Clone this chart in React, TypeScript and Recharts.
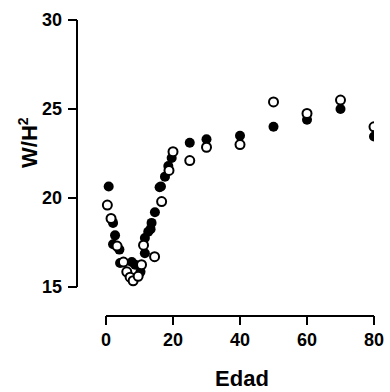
import { ScatterChart, Scatter, XAxis, YAxis, ReferenceLine } from 'recharts';

// filled circles
const edadA = [0.8, 1.6, 2.1, 2.7, 2.1, 4.0, 4.2, 7.7, 8.7, 10.3, 11.6, 11.6, 12.6, 13.3, 13.6, 14.6, 16.0, 16.4, 17.6, 18.6, 19.6, 25, 30, 40, 50, 60, 70, 80];
const imcA = [20.65, 18.8, 18.6, 17.9, 17.4, 17.1, 16.35, 16.4, 16.25, 15.85, 16.9, 17.75, 18.1, 18.25, 18.6, 19.2, 20.6, 20.65, 21.2, 21.8, 22.25, 23.1, 23.3, 23.5, 24.0, 24.4, 25.0, 23.45];

// open circles
const edadB = [0.4, 1.5, 3.3, 5.2, 6.2, 7.2, 8.1, 9.6, 10.6, 11.2, 14.5, 16.6, 18.8, 20, 25, 30, 40, 50, 60, 70, 80];
const imcB = [19.6, 18.85, 17.3, 16.4, 15.85, 15.55, 15.35, 15.6, 16.25, 17.35, 16.7, 19.8, 21.55, 22.6, 22.1, 22.85, 23.0, 25.4, 24.75, 25.5, 24.0];

const xTicks = [0, 20, 40, 60, 80];
const yTicks = [15, 20, 25, 30];

const xMin = -8.66;
const yMin = 13.37;

const font = '"Liberation Sans", Arial, sans-serif';

const serieA = edadA.map((x, i) => ({ x, y: imcA[i] }));
const serieB = edadB.map((x, i) => ({ x, y: imcB[i] }));

const tickStyle = { fill: '#000', fontSize: 18, fontWeight: 'bold', fontFamily: font };

export default function App() {
  return (
    <div style={{ position: 'absolute', left: 0, top: 0, background: '#fff' }}>
      <ScatterChart width={390} height={392} margin={{ top: 20, right: 16, left: 0, bottom: 0 }}>
        <XAxis
          type="number"
          dataKey="x"
          domain={[xMin, 80]}
          ticks={xTicks}
          axisLine={false}
          tickLine={{ stroke: '#000', strokeWidth: 2 }}
          tickSize={9}
          tickMargin={8}
          tick={tickStyle}
          height={76}
          allowDataOverflow
          label={{
            content: () => (
              <text x={242} y={386} textAnchor="middle" fill="#000" fontSize={22} fontWeight="bold" fontFamily={font}>
                Edad
              </text>
            ),
          }}
        />
        <YAxis
          type="number"
          dataKey="y"
          domain={[yMin, 30]}
          ticks={yTicks}
          axisLine={false}
          tickLine={{ stroke: '#000', strokeWidth: 2 }}
          tickSize={9}
          tickMargin={6}
          tick={tickStyle}
          width={77}
          allowDataOverflow
          label={{
            content: () => (
              <text transform="translate(37,168) rotate(-90)" fill="#000" fontSize={22} fontWeight="bold" fontFamily={font}>
                W/H
                <tspan dy={-9} fontSize={14}>2</tspan>
              </text>
            ),
          }}
        />
        <ReferenceLine segment={[{ x: 0, y: yMin }, { x: 80, y: yMin }]} stroke="#000" strokeWidth={2} ifOverflow="visible" />
        <ReferenceLine segment={[{ x: xMin, y: 15 }, { x: xMin, y: 30 }]} stroke="#000" strokeWidth={2} ifOverflow="visible" />
        <Scatter
          data={serieA}
          isAnimationActive={false}
          shape={(p: any) => <circle cx={p.cx} cy={p.cy} r={5} fill="#000" />}
        />
        <Scatter
          data={serieB}
          isAnimationActive={false}
          shape={(p: any) => <circle cx={p.cx} cy={p.cy} r={4.5} fill="#fff" stroke="#000" strokeWidth={2} />}
        />
      </ScatterChart>
    </div>
  );
}
